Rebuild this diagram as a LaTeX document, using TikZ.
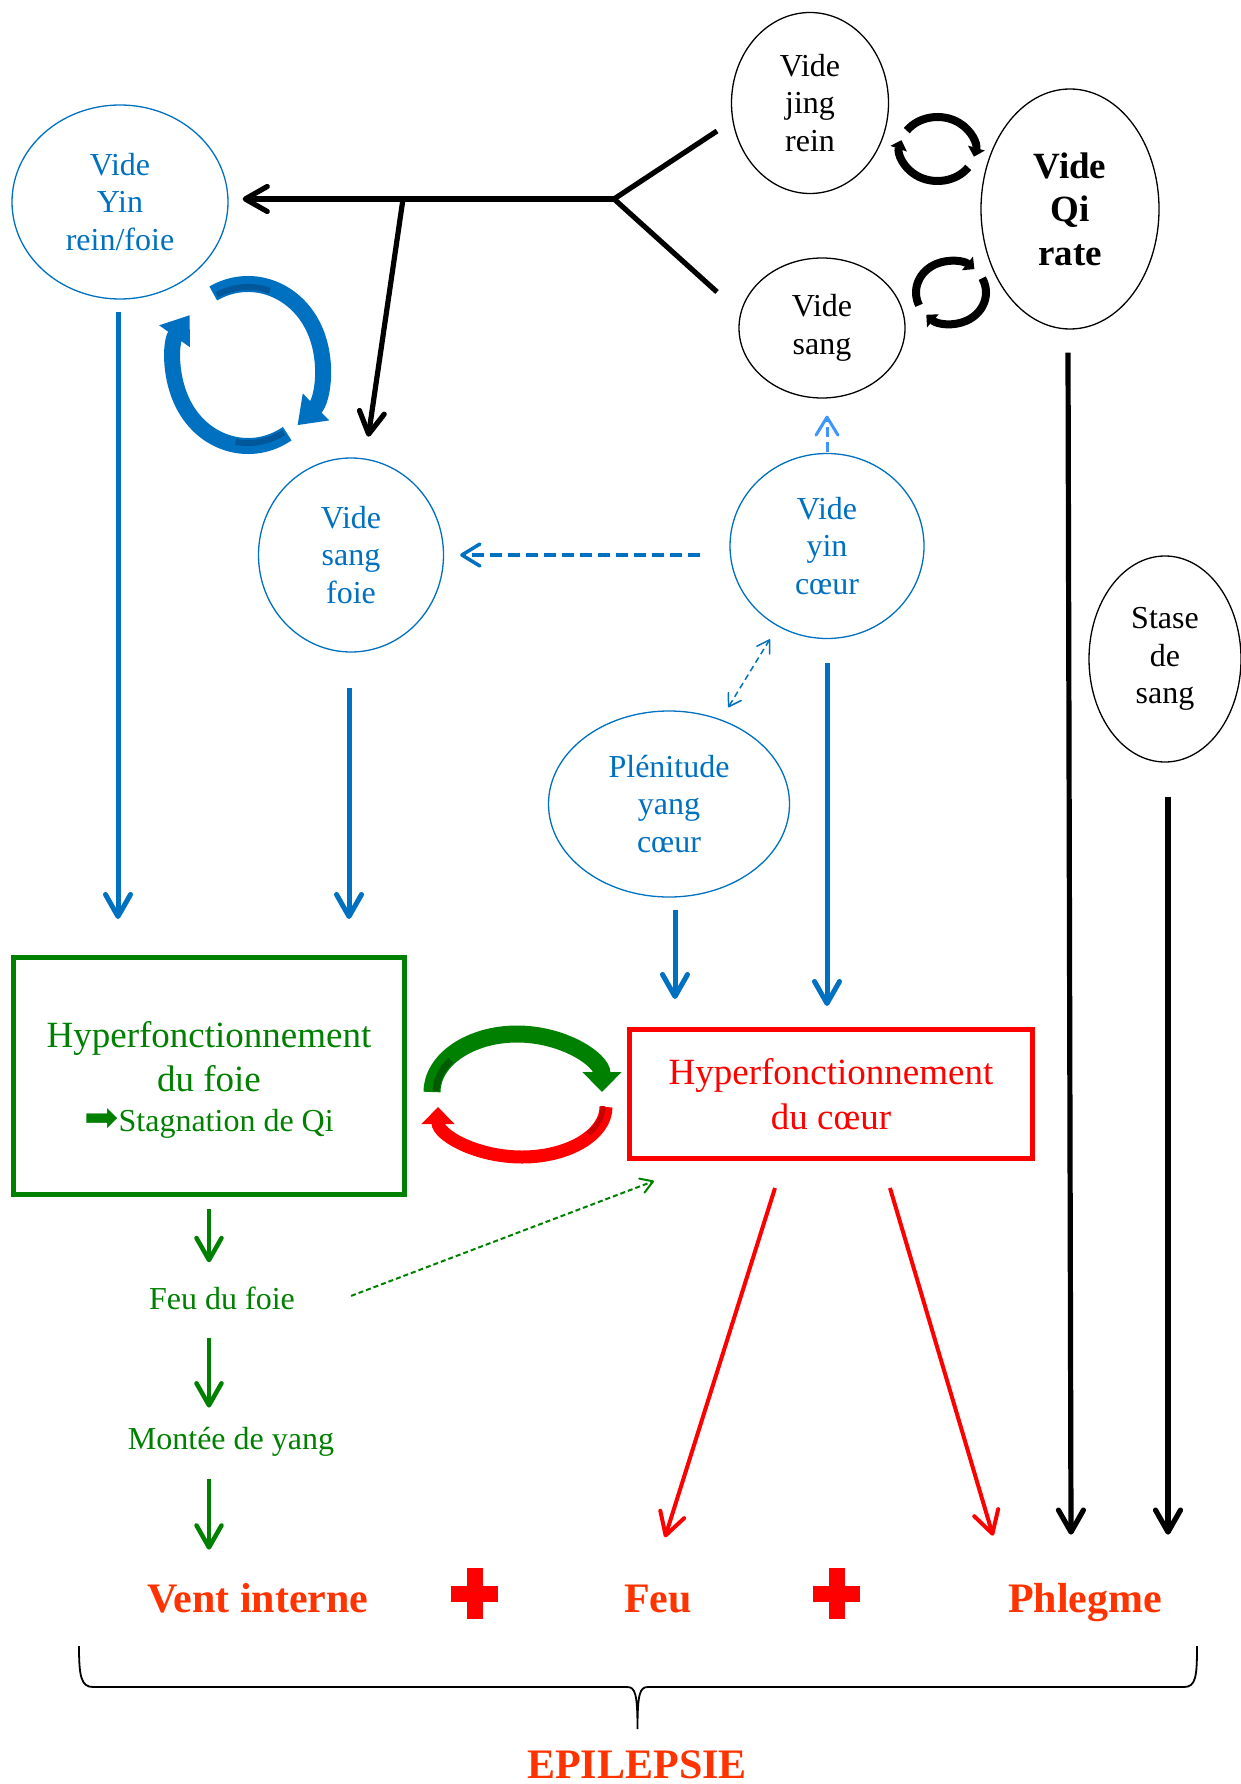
\documentclass[tikz,border=0pt]{standalone}
\usepackage{fontspec}
\setmainfont{Liberation Serif}
\newfontfamily\djv{DejaVu Sans}
\usetikzlibrary{arrows.meta,shapes.geometric,calc}
\definecolor{cblue}{HTML}{0070C0}
\definecolor{clblue}{HTML}{3D96FF}
\definecolor{cdblue}{HTML}{00589B}
\definecolor{cgreen}{HTML}{008000}
\definecolor{cdgreen}{HTML}{005C00}
\definecolor{cred}{HTML}{FF0000}
\definecolor{cdred}{HTML}{C80000}
\definecolor{corange}{HTML}{FF3300}
\begin{document}
\begin{tikzpicture}[x=1pt,y=-1pt,
  hbarb/.tip={Straight Barb[length=22pt,width=25pt,round]},
  sbarb/.tip={Straight Barb[length=18pt,width=22pt,round]},
  tbarb/.tip={Straight Barb[length=12pt,width=15pt,round]},
  bubble/.style={ellipse,draw,line width=1.3pt,inner sep=0pt,align=center,font=\fontsize{32}{37.3}\selectfont},
  bluebubble/.style={bubble,draw=cblue,text=cblue},
  blackbubble/.style={bubble,draw=black,text=black},
  txt/.style={inner sep=0pt,font=\fontsize{32}{37.3}\selectfont},
  bigtxt/.style={inner sep=0pt,font=\bfseries\fontsize{42}{48}\selectfont,text=corange},
  blk/.style={line width=5.2pt,black},
  blu/.style={line width=5pt,cblue,-hbarb},
  grn/.style={line width=4.5pt,cgreen,-hbarb},
  rdl/.style={line width=4pt,cred,-hbarb},
  bdash/.style={line width=3.5pt,cblue,dash pattern=on 12pt off 6pt,-sbarb},
  lbdash/.style={line width=3pt,clblue,dash pattern=on 10pt off 5pt,-sbarb},
  thindash/.style={line width=1.5pt,cblue,dash pattern=on 6pt off 4pt,tbarb-tbarb},
  gdash/.style={line width=2pt,cgreen,dash pattern=on 5pt off 3pt,-tbarb},
  bcyc/.style={line width=8pt,black,-{Triangle[length=9pt,width=17pt]}},
  blcyc/.style={line width=16pt,cblue,-{Triangle[length=26pt,width=36pt]}},
  gcyc/.style={line width=17pt,cgreen,-{Triangle[length=20pt,width=38pt]}},
  rcyc/.style={line width=13pt,cred,-{Triangle[length=17pt,width=32pt]}}
]
\useasboundingbox (0,0) rectangle (1241,1784);

% ellipses
\node[bluebubble,minimum width=216pt,minimum height=194pt] (yinrf) at (120,202) {Vide\\Yin\\rein/foie};
\node[blackbubble,minimum width=157pt,minimum height=181pt] (jing) at (810,103) {Vide\\jing\\rein};
\node[blackbubble,minimum width=178pt,minimum height=240pt,font=\bfseries\fontsize{37}{43.5}\selectfont] (qi) at (1070,209) {Vide\\Qi\\rate};
\node[blackbubble,minimum width=166pt,minimum height=140pt] (vsang) at (822,328) {Vide\\sang};
\node[bluebubble,minimum width=185pt,minimum height=194pt] (vsf) at (351,555) {Vide\\sang\\foie};
\node[bluebubble,minimum width=194pt,minimum height=185pt] (vyc) at (827,546) {Vide\\yin\\cœur};
\node[bluebubble,minimum width=241pt,minimum height=186pt] (plen) at (669,804) {Plénitude\\yang\\cœur};
\node[blackbubble,minimum width=152pt,minimum height=206pt] (stase) at (1165,659) {Stase\\de\\sang};

% boxes
\node[draw=cgreen,line width=5pt,minimum width=391pt,minimum height=237pt,inner sep=0pt,align=center,text=cgreen,font=\fontsize{37}{44}\selectfont] (gbox) at (209,1076)
  {\rule{0pt}{34pt}Hyperfonctionnement\\du foie\\[-4pt]{\fontsize{32}{40}\selectfont{\djv\fontsize{41}{40}\selectfont ➡}Stagnation de Qi}};
\node[draw=cred,line width=5pt,minimum width=403pt,minimum height=129pt,inner sep=0pt,align=center,text=cred,font=\fontsize{37}{45}\selectfont] (rbox) at (831,1094)
  {Hyperfonctionnement\\du cœur};

% free texts
\node[txt,text=cgreen,anchor=base] (feufoie) at (222,1309) {Feu du foie};
\node[txt,text=cgreen,anchor=base] (montee) at (231,1449) {Montée de yang};
\node[bigtxt,anchor=base] (vent) at (258,1612) {Vent interne};
\node[bigtxt,anchor=base] (feu) at (658,1612) {Feu};
\node[bigtxt,anchor=base] (phlegme) at (1085,1612) {Phlegme};
\node[bigtxt,anchor=base] (epi) at (637,1778) {EPILEPSIE};

% black branching connectors
\coordinate (br) at (614,199);
\coordinate (bj) at (717,131);
\coordinate (bs) at (717,292);
\coordinate (br2) at (403,199);
\draw[blk,line join=miter] (bj) -- (br) -- (bs);
\draw[blk,-hbarb,shorten >=14pt] (br) -- (br -| yinrf.east);
\draw[blk,-hbarb,shorten >=22pt] (br2) -- (vsf);

% blue arrows
\draw[blu,shorten <=12pt,shorten >=36pt] ([xshift=-2pt]yinrf.south) -- ([xshift=-2pt]yinrf.south |- gbox.north);
\draw[blu,shorten <=35pt,shorten >=36pt] ([xshift=-2pt]vsf.south) -- ([xshift=-2pt]vsf.south |- gbox.north);
\draw[blu,shorten <=12pt,shorten >=28pt] ([xshift=6pt]plen.south) -- ([xshift=6pt]plen.south |- rbox.north);
\draw[blu,shorten <=24pt,shorten >=21pt] (vyc.south) -- (vyc.south |- rbox.north);
\draw[bdash,shorten <=29pt,shorten >=16pt] ([yshift=-9pt]vyc.west) -- ([yshift=-9pt]vyc.west -| vsf.east);
\draw[lbdash,shorten <=1pt,shorten >=17pt] (vyc.north) -- (vyc.north |- vsang.south);
\draw[thindash,shorten <=15pt,shorten >=14pt] (vyc) -- (plen);

% green arrows
\draw[grn,shorten <=12pt,shorten >=24pt] (gbox.south) -- (gbox.south |- feufoie.north);
\draw[grn,shorten <=28pt,shorten >=19pt] (gbox.south |- feufoie.south) -- (gbox.south |- montee.north);
\draw[grn,shorten <=23pt,shorten >=33pt] (gbox.south |- montee.south) -- (gbox.south |- vent.north);
\draw[gdash] ($(feufoie.east)+(56,-2)$) -- ($(rbox.south west)+(27,20)$);

% red arrows
\draw[rdl] ($(rbox.south)+(-56,27)$) -- ($(feu.north)+(7,-47)$);
\draw[rdl] ($(rbox.south)+(59,27)$) -- ($(phlegme.north)+(-92,-47)$);

% black vertical arrows
\draw[blk,-hbarb] ($(qi.south)+(-2,23)$) -- ($(qi.south |- phlegme.north)+(1,-48)$);
\draw[blk,-hbarb] ($(stase.south)+(3,34)$) -- ($(stase.south |- phlegme.north)+(3,-48)$);

% small black cycles
\draw[bcyc] (937.5,149) ++(-145:37.5 and 32) arc[start angle=-145,end angle=14,x radius=37.5,y radius=32];
\draw[bcyc] (937.5,149) ++(35:37.5 and 32) arc[start angle=35,end angle=196,x radius=37.5,y radius=32];
\draw[bcyc] (951,292.5) ++(-204:35 and 31.5) arc[start angle=-204,end angle=-48,x radius=35,y radius=31.5];
\draw[bcyc] (951,292.5) ++(-27:35 and 31.5) arc[start angle=-27,end angle=135,x radius=35,y radius=31.5];

% blue cycle
\draw[blcyc] (248,365) ++(-118:74 and 81) arc[start angle=-118,end angle=48,x radius=74,y radius=81];
\draw[blcyc] (248,365) ++(58:74 and 81) arc[start angle=58,end angle=218,x radius=74,y radius=81];
\draw[cdblue,line width=6pt] (248,365) ++(-116:71 and 78) arc[start angle=-116,end angle=-72,x radius=71,y radius=78];
\draw[cdblue,line width=6pt] (248,365) ++(60:71 and 78) arc[start angle=60,end angle=100,x radius=71,y radius=78];

% green / red cycle
\draw[gcyc] (517,1092) ++(180:85 and 58) arc[start angle=180,end angle=360,x radius=85,y radius=58];
\draw[cdgreen,line width=7pt] (517,1092) ++(181:81 and 55) arc[start angle=181,end angle=215,x radius=81,y radius=55];
\draw[rcyc] (522,1107) ++(0:84 and 50) arc[start angle=0,end angle=180,x radius=84,y radius=50];
\draw[cdred,line width=5pt] (522,1107) ++(-1:81 and 47) arc[start angle=-1,end angle=35,x radius=81,y radius=47];

% plus signs
\fill[cred] (451,1586) rectangle (498,1602);
\fill[cred] (467,1568) rectangle (483,1619);
\fill[cred] (813,1586) rectangle (860,1602);
\fill[cred] (829,1568) rectangle (845,1619);

% brace
\draw[line width=1.8pt] (79,1646) .. controls (79,1676) and (81,1687) .. (93,1687) -- (627,1687)
  .. controls (635,1687) and (637.5,1693) .. (637.5,1729)
  .. controls (637.5,1693) and (640,1687) .. (648,1687) -- (1184,1687)
  .. controls (1196,1687) and (1197,1676) .. (1197,1646);
\end{tikzpicture}
\end{document}
